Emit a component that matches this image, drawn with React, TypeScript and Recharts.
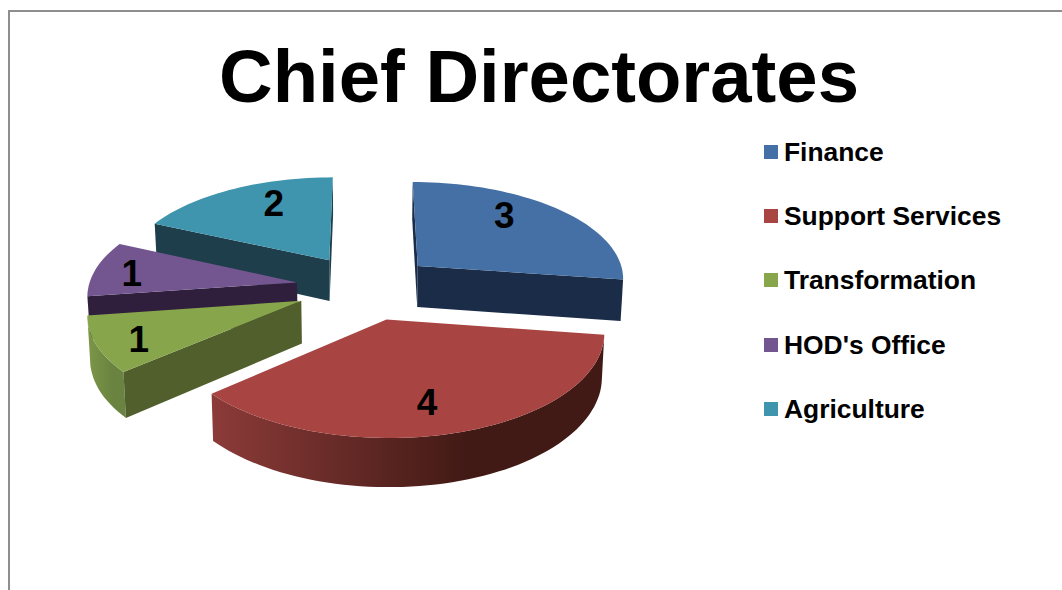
import React from 'react';
import { PieChart, Pie, Legend } from 'recharts';

const categories = ['Finance', 'Support Services', 'Transformation', "HOD's Office", 'Agriculture'];
const counts = [3, 4, 1, 1, 2];
const topColors = ['#4570a5', '#a84442', '#87a64c', '#73568f', '#4095ae'];
const sideColors = ['#1a2c47', '#451b17', '#505f2c', '#2f1f3d', '#1d3e4a'];
const rimLight = ['#33527a', '#8c3b39', '#7c9748', '#5d4675', '#357c90'];
const rimDark = ['#1a2c47', '#421a15', '#6a8340', '#2f1f3d', '#1d3e4a'];

// how far along the radius each number sits, and a small vertical nudge
const labelRadius = [0.6, 0.6, 0.8, 0.82, 0.55];
const labelNudge = [-15, 18, 4, 2, -16];

const CX = 366;
const CY = 287;
const R = 208.5;
const SQUASH = 0.468; // vertical tilt of the pie plane
const PERSPECTIVE = 0.11;
const EXPLODE = 0.336;
const DEPTH = 42;

// drawn back to front, so the pie runs counter-clockwise from the top
const tableData = categories
  .map((name, i) => ({ name, value: counts[i], order: i }))
  .reverse();

const rad = (deg: number) => (deg * Math.PI) / 180;

// pie plane -> screen, with a bit of perspective
const project = (u: number, v: number, bottom = false) => {
  const s = 1 / (1 - PERSPECTIVE * v);
  const x = R * u * s;
  const y = R * SQUASH * v * s;
  return bottom ? [CX + x * 0.99, CY + y + DEPTH * s] : [CX + x, CY + y];
};

const toPath = (pts: number[][]) =>
  'M' + pts.map(p => `${p[0].toFixed(1)},${p[1].toFixed(1)}`).join('L') + 'Z';

const Slice3D = (props: any) => {
  const { startAngle, endAngle, payload } = props;
  const order = payload?.order ?? props.order;
  const a0 = Math.min(startAngle, endAngle);
  const a1 = Math.max(startAngle, endAngle);
  const mid = (a0 + a1) / 2;
  const ou = EXPLODE * Math.cos(rad(mid));
  const ov = -EXPLODE * Math.sin(rad(mid));

  const steps = Math.max(8, Math.round((a1 - a0) / 2));
  const rim: number[][] = [];
  for (let i = 0; i <= steps; i++) {
    const a = rad(a0 + ((a1 - a0) * i) / steps);
    rim.push([ou + Math.cos(a), ov - Math.sin(a)]);
  }
  const apex = [ou, ov];
  const top = (p: number[]) => project(p[0], p[1]);
  const low = (p: number[]) => project(p[0], p[1], true);

  // a wall shows when its top edge runs left to right on screen
  const walls: React.ReactNode[] = [];
  const radial = [
    [apex, rim[0]],
    [rim[rim.length - 1], apex],
  ];
  radial.forEach(([p, q], i) => {
    if (top(q)[0] > top(p)[0]) {
      walls.push(
        <path key={`r${i}`} d={toPath([top(p), top(q), low(q), low(p)])} fill={sideColors[order]} />
      );
    }
  });

  const visible: number[][] = [];
  for (let i = 0; i < rim.length - 1; i++) {
    if (top(rim[i + 1])[0] > top(rim[i])[0]) {
      if (!visible.length) visible.push(rim[i]);
      visible.push(rim[i + 1]);
    }
  }
  const gradId = `rim-${order}`;

  return (
    <g>
      <defs>
        <linearGradient id={gradId} x1="0" y1="0" x2="1" y2="0">
          <stop offset="0%" stopColor={rimLight[order]} />
          <stop offset="65%" stopColor={rimDark[order]} />
          <stop offset="100%" stopColor={rimDark[order]} />
        </linearGradient>
      </defs>
      {visible.length > 1 && (
        <path d={toPath([...visible.map(top), ...[...visible].reverse().map(low)])} fill={`url(#${gradId})`} />
      )}
      {walls}
      <path d={toPath([top(apex), ...rim.map(top)])} fill={topColors[order]} />
    </g>
  );
};

const renderCount = (props: any) => {
  const { midAngle, payload, value } = props;
  const order = payload?.order ?? props.order;
  const r = labelRadius[order];
  const u = (EXPLODE + r) * Math.cos(rad(midAngle));
  const v = -(EXPLODE + r) * Math.sin(rad(midAngle));
  const [x, y] = project(u, v);
  return (
    <text
      x={x}
      y={y + labelNudge[order]}
      textAnchor="middle"
      dominantBaseline="central"
      fontFamily="Liberation Sans"
      fontWeight="bold"
      fontSize={37}
      fill="#000"
    >
      {value}
    </text>
  );
};

const renderLegend = () => (
  <div style={{ fontFamily: 'Liberation Sans', fontWeight: 'bold', fontSize: 26.4, color: '#000' }}>
    {categories.map((name, i) => (
      <div key={name} style={{ height: 64.2, display: 'flex', alignItems: 'center', lineHeight: '30px' }}>
        <span style={{ width: 14, height: 14, background: topColors[i], marginRight: 6, display: 'inline-block' }} />
        {name}
      </div>
    ))}
  </div>
);

export default function App() {
  return (
    <div style={{ position: 'absolute', left: 0, top: 0, width: 1062, height: 590, overflow: 'hidden', background: '#fff' }}>
      <div
        style={{
          position: 'absolute',
          left: 8,
          top: 10,
          width: 1100,
          height: 700,
          borderLeft: '2px solid #8e8e8e',
          borderTop: '2px solid #8e8e8e',
        }}
      />
      <PieChart width={1062} height={590} style={{ position: 'absolute', left: 0, top: 0 }}>
        <text
          x={539}
          y={102}
          textAnchor="middle"
          fontFamily="Liberation Sans"
          fontWeight="bold"
          fontSize={74.3}
          fill="#000"
        >
          Chief Directorates
        </text>
        <Pie
          data={tableData}
          dataKey="value"
          nameKey="name"
          cx={CX}
          cy={CY}
          outerRadius={R}
          startAngle={90}
          endAngle={450}
          shape={Slice3D}
          label={renderCount}
          labelLine={false}
          isAnimationActive={false}
        />
        <Legend
          content={renderLegend}
          layout="vertical"
          wrapperStyle={{ position: 'absolute', left: 764, top: 120, width: 290 }}
        />
      </PieChart>
    </div>
  );
}
